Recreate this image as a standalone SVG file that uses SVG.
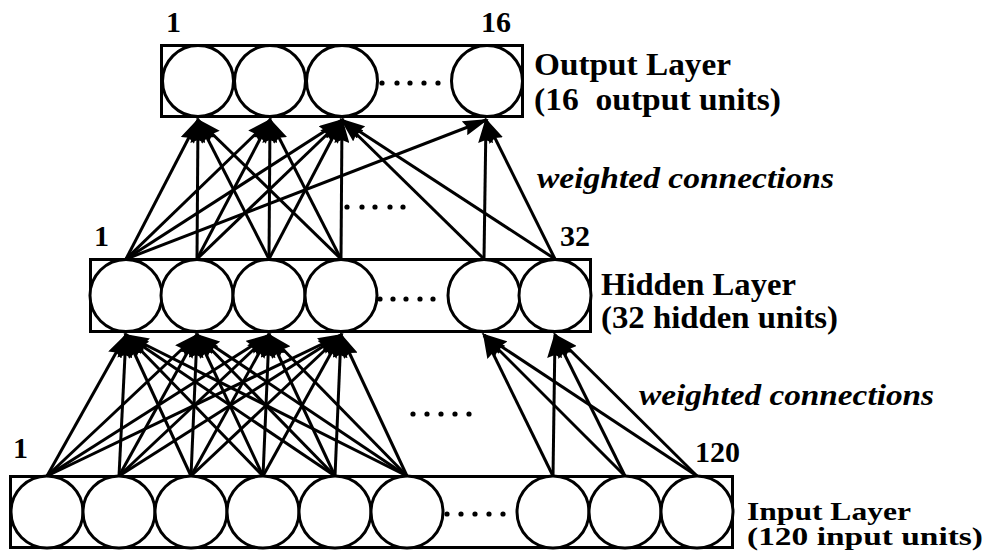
<svg xmlns="http://www.w3.org/2000/svg" width="985" height="552" viewBox="0 0 985 552">
<defs>
<style>
.box{fill:#fff;stroke:#000;stroke-width:3}
.unit{fill:#fff;stroke:#000;stroke-width:3}
.dot{fill:#000}
.c line{stroke:#000;stroke-width:3;marker-end:url(#ah)}
.num{font-family:"Liberation Serif","Times New Roman",serif;font-weight:bold;font-size:30px;fill:#000}
.lbl{font-family:"Liberation Serif","Times New Roman",serif;font-weight:bold;font-size:31px;fill:#000}
.sm{font-size:26px}
.it{font-family:"Liberation Serif","Times New Roman",serif;font-weight:bold;font-style:italic;font-size:29px;fill:#000}
</style>
<marker id="ah" markerUnits="userSpaceOnUse" viewBox="0 0 26 15" markerWidth="26" markerHeight="15" refX="23" refY="7.5" orient="auto">
<path d="M0,0 L26,7.5 L0,15 L3,7.5 z" fill="#000"/>
</marker>
</defs>
<rect width="985" height="552" fill="#fff"/>

<g id="output-layer">
<rect class="box" x="161.5" y="45.5" width="361" height="71"/>
<g id="out-1"><circle class="unit" cx="198" cy="81" r="35.5"/></g>
<g id="out-2"><circle class="unit" cx="270" cy="81" r="35.5"/></g>
<g id="out-3"><circle class="unit" cx="342" cy="81" r="35.5"/></g>
<g id="out-16"><circle class="unit" cx="487" cy="81" r="35.5"/></g>
<g class="dot"><circle cx="382" cy="83" r="2.6"/><circle cx="397" cy="83" r="2.6"/><circle cx="410" cy="83" r="2.6"/><circle cx="424" cy="83" r="2.6"/><circle cx="438" cy="83" r="2.6"/></g>
<text class="num" x="166" y="32">1</text>
<text class="num" x="481" y="32">16</text>
<text class="lbl" x="534" y="75" textLength="197" lengthAdjust="spacingAndGlyphs">Output Layer</text>
<text class="lbl" x="534" y="110" xml:space="preserve" textLength="247" lengthAdjust="spacingAndGlyphs">(16  output units)</text>
</g>

<g id="hidden-layer">
<rect class="box" x="90.5" y="259.5" width="500" height="72"/>
<g id="hid-1"><circle class="unit" cx="126" cy="295.5" r="36"/></g>
<g id="hid-2"><circle class="unit" cx="197" cy="295.5" r="36"/></g>
<g id="hid-3"><circle class="unit" cx="269" cy="295.5" r="36"/></g>
<g id="hid-4"><circle class="unit" cx="341" cy="295.5" r="36"/></g>
<g id="hid-31"><circle class="unit" cx="484" cy="295.5" r="36"/></g>
<g id="hid-32"><circle class="unit" cx="555" cy="295.5" r="36"/></g>
<g class="dot"><circle cx="380" cy="299" r="2.6"/><circle cx="393" cy="299" r="2.6"/><circle cx="406" cy="299" r="2.6"/><circle cx="420" cy="299" r="2.6"/><circle cx="433" cy="299" r="2.6"/></g>
<text class="num" x="94" y="246">1</text>
<text class="num" x="560" y="246">32</text>
<text class="lbl" x="601" y="295" textLength="195" lengthAdjust="spacingAndGlyphs">Hidden Layer</text>
<text class="lbl" x="601" y="328" textLength="237" lengthAdjust="spacingAndGlyphs">(32 hidden units)</text>
</g>

<g id="input-layer">
<rect class="box" x="10.5" y="476.5" width="722" height="71"/>
<g id="in-1"><circle class="unit" cx="47" cy="512" r="36"/></g>
<g id="in-2"><circle class="unit" cx="119" cy="512" r="36"/></g>
<g id="in-3"><circle class="unit" cx="191" cy="512" r="36"/></g>
<g id="in-4"><circle class="unit" cx="263" cy="512" r="36"/></g>
<g id="in-5"><circle class="unit" cx="335" cy="512" r="36"/></g>
<g id="in-6"><circle class="unit" cx="407" cy="512" r="36"/></g>
<g id="in-118"><circle class="unit" cx="553" cy="512" r="36"/></g>
<g id="in-119"><circle class="unit" cx="625" cy="512" r="36"/></g>
<g id="in-120"><circle class="unit" cx="697" cy="512" r="36"/></g>
<g class="dot"><circle cx="447" cy="514" r="2.6"/><circle cx="461" cy="514" r="2.6"/><circle cx="475" cy="514" r="2.6"/><circle cx="489" cy="514" r="2.6"/><circle cx="503" cy="514" r="2.6"/></g>
<text class="num" x="13" y="458">1</text>
<text class="num" x="695" y="462">120</text>
<text class="lbl sm" x="747" y="520" textLength="164" lengthAdjust="spacingAndGlyphs">Input Layer</text>
<text class="lbl sm" x="747" y="545" textLength="236" lengthAdjust="spacingAndGlyphs">(120 input units)</text>
</g>

<g id="labels">
<text class="it" x="537" y="188" textLength="297" lengthAdjust="spacingAndGlyphs">weighted connections</text>
<text class="it" x="639" y="405" textLength="295" lengthAdjust="spacingAndGlyphs">weighted connections</text>
<g class="dot"><circle cx="347" cy="207" r="2.6"/><circle cx="362" cy="207" r="2.6"/><circle cx="375" cy="207" r="2.6"/><circle cx="390" cy="207" r="2.6"/><circle cx="403" cy="207" r="2.6"/></g>
<g class="dot"><circle cx="413" cy="414" r="2.6"/><circle cx="427" cy="414" r="2.6"/><circle cx="441" cy="414" r="2.6"/><circle cx="455" cy="414" r="2.6"/><circle cx="469" cy="414" r="2.6"/></g>
</g>

<g id="connectors" class="c">
<line x1="126" y1="259" x2="198" y2="120"/>
<line x1="126" y1="259" x2="270" y2="120"/>
<line x1="126" y1="259" x2="342" y2="120"/>
<line x1="126" y1="259" x2="486" y2="120"/>
<line x1="197" y1="259" x2="198" y2="120"/>
<line x1="197" y1="259" x2="270" y2="120"/>
<line x1="197" y1="259" x2="342" y2="120"/>
<line x1="269" y1="259" x2="198" y2="120"/>
<line x1="269" y1="259" x2="270" y2="120"/>
<line x1="269" y1="259" x2="342" y2="120"/>
<line x1="341" y1="259" x2="198" y2="120"/>
<line x1="341" y1="259" x2="270" y2="120"/>
<line x1="341" y1="259" x2="342" y2="120"/>
<line x1="484" y1="259" x2="342" y2="120"/>
<line x1="484" y1="259" x2="486" y2="120"/>
<line x1="555" y1="259" x2="342" y2="120"/>
<line x1="555" y1="259" x2="486" y2="120"/>

<line x1="47" y1="476" x2="126" y2="335"/>
<line x1="47" y1="476" x2="197" y2="335"/>
<line x1="47" y1="476" x2="269" y2="335"/>
<line x1="47" y1="476" x2="341" y2="335"/>
<line x1="119" y1="476" x2="126" y2="335"/>
<line x1="119" y1="476" x2="197" y2="335"/>
<line x1="119" y1="476" x2="269" y2="335"/>
<line x1="119" y1="476" x2="341" y2="335"/>
<line x1="191" y1="476" x2="126" y2="335"/>
<line x1="191" y1="476" x2="197" y2="335"/>
<line x1="191" y1="476" x2="269" y2="335"/>
<line x1="191" y1="476" x2="341" y2="335"/>
<line x1="263" y1="476" x2="126" y2="335"/>
<line x1="263" y1="476" x2="197" y2="335"/>
<line x1="263" y1="476" x2="269" y2="335"/>
<line x1="263" y1="476" x2="341" y2="335"/>
<line x1="335" y1="476" x2="126" y2="335"/>
<line x1="335" y1="476" x2="197" y2="335"/>
<line x1="335" y1="476" x2="269" y2="335"/>
<line x1="335" y1="476" x2="341" y2="335"/>
<line x1="407" y1="476" x2="126" y2="335"/>
<line x1="407" y1="476" x2="197" y2="335"/>
<line x1="407" y1="476" x2="269" y2="335"/>
<line x1="407" y1="476" x2="341" y2="335"/>
<line x1="553" y1="476" x2="484" y2="335"/>
<line x1="553" y1="476" x2="555" y2="335"/>
<line x1="625" y1="476" x2="484" y2="335"/>
<line x1="625" y1="476" x2="555" y2="335"/>
<line x1="697" y1="476" x2="484" y2="335"/>
<line x1="697" y1="476" x2="555" y2="335"/>
</g>
</svg>
